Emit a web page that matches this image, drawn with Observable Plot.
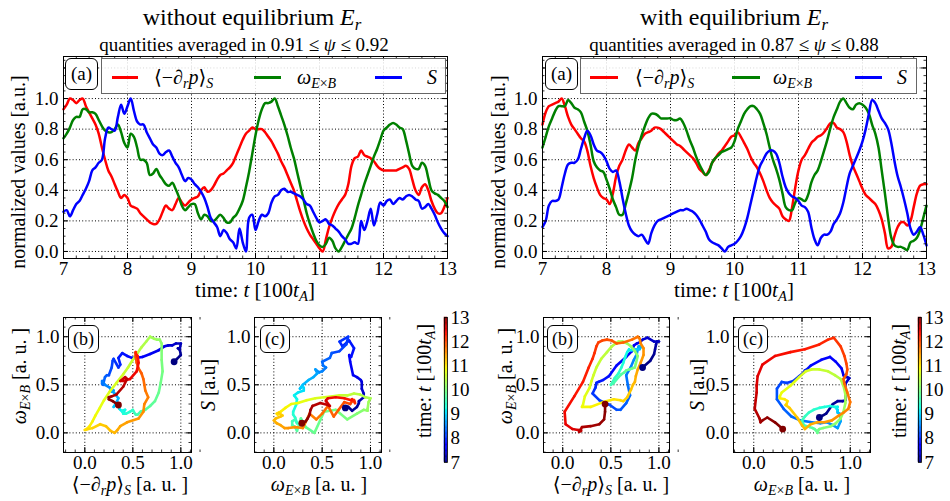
<!DOCTYPE html>
<html><head><meta charset="utf-8">
<script src="https://cdn.jsdelivr.net/npm/d3@7"></script>
<script src="https://cdn.jsdelivr.net/npm/@observablehq/plot@0.6"></script>
<style>
body{margin:0;background:#fff;}
#root{position:relative;width:950px;height:501px;overflow:hidden;font-family:"Liberation Serif","DejaVu Serif",serif;color:#000;background:#fff;}
#root svg{position:absolute;overflow:visible;}
#root svg text{font-family:"Liberation Serif","DejaVu Serif",serif !important;}
.t{position:absolute;white-space:nowrap;line-height:1;font-family:"Liberation Serif","DejaVu Serif",serif;}
.t sub{font-size:70%;vertical-align:-0.28em;line-height:0;}
.box{position:absolute;border:1px solid #000;border-radius:6px;background:#fff;display:flex;align-items:center;justify-content:center;box-sizing:border-box;font-family:"Liberation Serif","DejaVu Serif",serif;}
.leg{position:absolute;border:1px solid #666;background:rgba(255,255,255,0.85);box-sizing:border-box;}
.sw{position:absolute;height:3px;}
</style></head><body><div id="root"></div>
<script>
// ---- data: time grid 7.00 .. 13.00 in steps of 0.05 (t in units of 100 t_A)
const T0 = 7, DT = 0.05;
// without equilibrium E_r  (0.91 <= psi <= 0.92)
const leftRed = [
0.93,0.96,1.00,0.99,0.97,0.99,1.00,0.95,0.91,0.87,
0.83,0.77,0.68,0.60,0.53,0.49,0.44,0.39,0.35,0.37,
0.35,0.30,0.29,0.28,0.25,0.23,0.21,0.19,0.18,0.18,
0.21,0.26,0.30,0.28,0.27,0.31,0.35,0.32,0.30,0.32,
0.34,0.35,0.36,0.40,0.42,0.39,0.40,0.43,0.47,0.50,
0.51,0.53,0.55,0.58,0.63,0.68,0.73,0.77,0.79,0.81,
0.80,0.80,0.80,0.78,0.75,0.72,0.68,0.64,0.59,0.55,
0.50,0.45,0.40,0.33,0.26,0.20,0.15,0.11,0.08,0.05,
0.02,0.00,0.08,0.16,0.22,0.27,0.31,0.34,0.37,0.44,
0.56,0.61,0.62,0.66,0.63,0.62,0.61,0.59,0.56,0.54,
0.53,0.53,0.53,0.53,0.53,0.54,0.55,0.56,0.54,0.47,
0.40,0.37,0.42,0.44,0.40,0.33,0.28,0.25,0.25,0.29,
0.35];
const leftGreen = [
0.74,0.77,0.81,0.86,0.88,0.88,0.93,0.93,0.91,0.91,
0.90,0.86,0.82,0.79,0.78,0.78,0.80,0.83,0.78,0.71,
0.68,0.77,0.75,0.68,0.60,0.60,0.58,0.50,0.51,0.54,
0.50,0.47,0.44,0.43,0.45,0.41,0.36,0.30,0.27,0.29,
0.31,0.31,0.25,0.21,0.24,0.23,0.20,0.20,0.22,0.24,
0.22,0.19,0.19,0.22,0.24,0.28,0.33,0.42,0.52,0.64,
0.76,0.86,0.93,0.97,0.97,0.98,1.00,0.95,0.89,0.83,
0.76,0.68,0.61,0.52,0.43,0.34,0.25,0.18,0.12,0.07,
0.04,0.03,0.05,0.09,0.07,0.02,0.00,0.03,0.07,0.11,
0.15,0.22,0.30,0.37,0.44,0.50,0.56,0.62,0.67,0.73,
0.79,0.81,0.83,0.84,0.83,0.81,0.80,0.73,0.64,0.56,
0.54,0.54,0.58,0.56,0.48,0.40,0.38,0.37,0.35,0.33,
0.29];
const leftBlue = [
0.26,0.27,0.23,0.27,0.31,0.33,0.37,0.41,0.46,0.53,
0.55,0.58,0.60,0.74,0.81,0.80,0.79,0.88,0.96,0.90,
0.95,1.00,0.92,0.85,0.83,0.83,0.78,0.74,0.70,0.68,
0.64,0.63,0.65,0.66,0.62,0.58,0.55,0.50,0.46,0.48,
0.47,0.44,0.42,0.39,0.35,0.29,0.22,0.19,0.16,0.10,
0.14,0.12,0.08,0.06,0.02,0.15,0.06,0.00,0.22,0.24,
0.14,0.20,0.24,0.23,0.25,0.32,0.36,0.37,0.40,0.41,
0.39,0.39,0.38,0.37,0.36,0.34,0.31,0.30,0.26,0.22,
0.19,0.20,0.21,0.18,0.17,0.15,0.13,0.10,0.08,0.05,
0.05,0.06,0.05,0.20,0.14,0.20,0.28,0.17,0.24,0.32,
0.30,0.33,0.34,0.31,0.33,0.35,0.34,0.36,0.37,0.36,
0.34,0.33,0.28,0.29,0.31,0.28,0.24,0.19,0.15,0.12,
0.10];
// with equilibrium E_r  (0.87 <= psi <= 0.88)
const rightRed = [
0.83,0.91,0.95,0.96,0.97,0.98,1.00,0.95,0.88,0.83,
0.80,0.77,0.74,0.72,0.66,0.56,0.48,0.42,0.37,0.35,
0.34,0.31,0.38,0.49,0.56,0.60,0.66,0.70,0.68,0.66,
0.71,0.74,0.77,0.78,0.79,0.81,0.81,0.80,0.78,0.76,
0.74,0.72,0.70,0.69,0.67,0.65,0.63,0.61,0.58,0.54,
0.52,0.50,0.53,0.58,0.61,0.64,0.66,0.69,0.72,0.75,
0.76,0.78,0.75,0.71,0.67,0.62,0.58,0.55,0.51,0.46,
0.40,0.35,0.32,0.30,0.28,0.23,0.21,0.20,0.29,0.42,
0.53,0.60,0.63,0.67,0.71,0.73,0.75,0.76,0.78,0.81,
0.84,0.84,0.81,0.80,0.78,0.72,0.63,0.56,0.51,0.46,
0.41,0.37,0.35,0.33,0.31,0.27,0.21,0.12,0.02,0.03,
0.10,0.16,0.19,0.19,0.17,0.20,0.29,0.38,0.43,0.44,
0.44];
const rightGreen = [
0.68,0.75,0.82,0.87,0.92,0.95,0.95,0.95,0.99,0.97,
0.94,0.93,0.91,0.85,0.79,0.70,0.59,0.55,0.53,0.52,
0.47,0.41,0.34,0.29,0.24,0.24,0.31,0.39,0.48,0.60,
0.69,0.76,0.82,0.87,0.90,0.90,0.89,0.87,0.87,0.87,
0.87,0.86,0.86,0.87,0.84,0.79,0.73,0.68,0.62,0.57,
0.53,0.50,0.52,0.58,0.61,0.63,0.65,0.66,0.67,0.68,
0.72,0.80,0.85,0.90,0.93,0.95,0.95,0.93,0.90,0.84,
0.77,0.68,0.60,0.54,0.47,0.38,0.29,0.27,0.27,0.32,
0.35,0.34,0.33,0.37,0.45,0.50,0.53,0.59,0.66,0.73,
0.81,0.88,0.93,0.98,1.00,0.97,0.94,0.93,0.96,0.97,
0.96,0.94,0.90,0.83,0.77,0.68,0.53,0.38,0.22,0.09,
0.04,0.03,0.03,0.02,0.01,0.06,0.07,0.09,0.14,0.22,
0.30];
const rightBlue = [
0.16,0.20,0.30,0.33,0.33,0.34,0.42,0.51,0.57,0.58,
0.58,0.60,0.67,0.74,0.79,0.76,0.70,0.66,0.65,0.63,
0.59,0.54,0.52,0.53,0.46,0.35,0.25,0.17,0.13,0.11,
0.10,0.11,0.08,0.05,0.12,0.17,0.20,0.21,0.22,0.23,
0.24,0.25,0.26,0.27,0.27,0.28,0.27,0.26,0.24,0.21,
0.17,0.13,0.08,0.06,0.05,0.04,0.02,0.00,0.03,0.04,
0.05,0.07,0.10,0.15,0.22,0.31,0.40,0.49,0.56,0.60,
0.64,0.66,0.66,0.64,0.58,0.49,0.42,0.38,0.36,0.35,
0.33,0.30,0.29,0.26,0.16,0.08,0.04,0.09,0.11,0.11,
0.13,0.18,0.21,0.25,0.32,0.42,0.51,0.56,0.61,0.66,
0.72,0.80,0.90,0.99,0.97,0.92,0.87,0.84,0.80,0.71,
0.59,0.49,0.42,0.34,0.25,0.15,0.11,0.13,0.16,0.11,
0.04];
const time = leftRed.map((_, i) => +(T0 + DT * i).toFixed(2));

// ticks / labels
const topXTicks = [7, 8, 9, 10, 11, 12, 13];
const topYLabels = [0, 0.2, 0.4, 0.6, 0.8, 1.0];
const topYGrid = [0, 0.2, 0.4, 0.6, 0.8, 1.0, 1.2];
const phaseTicks = [0, 0.5, 1.0];
const cbTicks = [7, 8, 9, 10, 11, 12, 13];
const seriesNames = ["p", "w", "s"];
const seriesColors = ["#ff0000", "#008000", "#0000ff"];

const FONT = '"Liberation Serif","DejaVu Serif",serif';
const TICKFS = "19px";
const root = document.getElementById("root");

function jet(x) {
  x = Math.max(0, Math.min(1, x));
  const r = x < 0.35 ? 0 : x < 0.66 ? (x - 0.35) / 0.31 : x < 0.89 ? 1 : 1 - 0.5 * (x - 0.89) / 0.11;
  const g = x < 0.125 ? 0 : x < 0.375 ? (x - 0.125) / 0.25 : x < 0.64 ? 1 : x < 0.91 ? 1 - (x - 0.64) / 0.27 : 0;
  const b = x < 0.11 ? 0.5 + 0.5 * x / 0.11 : x < 0.34 ? 1 : x < 0.65 ? 1 - (x - 0.34) / 0.31 : 0;
  return `rgb(${Math.round(r * 255)},${Math.round(g * 255)},${Math.round(b * 255)})`;
}

function range(a, b, s) { const out = []; for (let v = a; v <= b + 1e-9; v += s) out.push(+v.toFixed(4)); return out; }

function inTicks(xs, ys, fw, fh, len, w) {
  return [
    Plot.ruleX(xs, {insetTop: fh - len, stroke: "#000", strokeWidth: w}),
    Plot.ruleX(xs, {insetBottom: fh - len, stroke: "#000", strokeWidth: w}),
    Plot.ruleY(ys, {insetRight: fw - len, stroke: "#000", strokeWidth: w}),
    Plot.ruleY(ys, {insetLeft: fw - len, stroke: "#000", strokeWidth: w})
  ];
}
const gridStyle = {stroke: "#000", strokeWidth: 1, strokeDasharray: "1,2.2"};

function place(svg, left, top) { svg.style.left = left + "px"; svg.style.top = top + "px"; root.appendChild(svg); }

function topPlot(red, green, blue, W, H, mL, mR, mT, mB) {
  const rows = [];
  [red, green, blue].forEach((arr, k) => arr.forEach((v, i) => rows.push({t: time[i], v, k: seriesNames[k]})));
  const fw = W - mL - mR, fh = H - mT - mB;
  return Plot.plot({
    width: W, height: H, marginLeft: mL, marginRight: mR, marginTop: mT, marginBottom: mB,
    style: {fontFamily: FONT, fontSize: TICKFS, background: "transparent", color: "#000"},
    x: {domain: [7, 13], ticks: topXTicks, tickSize: 0, tickPadding: 3, tickFormat: d => String(d), label: null},
    y: {domain: [-0.046, 1.275], ticks: topYLabels, tickSize: 0, tickPadding: 5, tickFormat: d => d.toFixed(1), label: null},
    color: {domain: seriesNames, range: seriesColors},
    marks: [
      Plot.ruleX(topXTicks, gridStyle),
      Plot.ruleY(topYGrid, gridStyle),
      Plot.line(rows, {x: "t", y: "v", z: "k", stroke: "k", strokeWidth: 2.5, curve: "catmull-rom", strokeLinejoin: "round"}),
      ...inTicks(topXTicks, topYGrid, fw, fh, 5, 1),
      ...inTicks(range(7, 13, 0.2), range(0, 1.25, 0.05), fw, fh, 2.5, 0.8),
      Plot.frame({stroke: "#000", strokeWidth: 1})
    ]
  });
}

function phasePlot(xs, ys, W, H, mL, mR, mT, mB, xd, yd) {
  const segs = [];
  for (let i = 0; i < xs.length - 1; i++) segs.push({x1: xs[i], y1: ys[i], x2: xs[i + 1], y2: ys[i + 1], t: (time[i] + time[i + 1]) / 2});
  const n = xs.length - 1;
  const ends = [{x: xs[0], y: ys[0], t: time[0]}, {x: xs[n], y: ys[n], t: time[n]}];
  const fw = W - mL - mR, fh = H - mT - mB;
  return Plot.plot({
    width: W, height: H, marginLeft: mL, marginRight: mR, marginTop: mT, marginBottom: mB,
    style: {fontFamily: FONT, fontSize: TICKFS, background: "transparent", color: "#000"},
    x: {domain: xd, ticks: phaseTicks, tickSize: 0, tickPadding: 3, tickFormat: d => d.toFixed(1), label: null},
    y: {domain: yd, ticks: phaseTicks, tickSize: 0, tickPadding: 4, tickFormat: d => d.toFixed(1), label: null},
    color: {type: "linear", domain: [7, 13], interpolate: jet},
    marks: [
      Plot.ruleX(phaseTicks, gridStyle),
      Plot.ruleY(phaseTicks, gridStyle),
      Plot.link(segs, {x1: "x1", y1: "y1", x2: "x2", y2: "y2", stroke: "t", strokeWidth: 2.6, strokeLinecap: "round"}),
      Plot.dot(ends, {x: "x", y: "y", fill: "t", r: 3.4}),
      ...inTicks(phaseTicks, phaseTicks, fw, fh, 5, 1),
      ...inTicks(range(-0.2, 1.2, 0.1), range(-0.2, 1.2, 0.1), fw, fh, 2.5, 0.8),
      Plot.frame({stroke: "#000", strokeWidth: 1})
    ]
  });
}

function colorbar() {
  const rows = [];
  for (let i = 0; i < 120; i++) { const a = 7 + i * 0.05, b = a + 0.05; rows.push({a, b, m: (a + b) / 2}); }
  return Plot.plot({
    width: 40, height: 170, marginLeft: 8, marginRight: 29, marginTop: 7, marginBottom: 18,
    style: {fontFamily: FONT, fontSize: TICKFS, background: "transparent", color: "#000"},
    x: {domain: [0, 1], axis: null},
    y: {domain: [7, 13], ticks: cbTicks, axis: "right", tickSize: 0, tickPadding: 3, tickFormat: d => String(d), label: null},
    color: {type: "linear", domain: [7, 13], interpolate: jet},
    marks: [
      Plot.rect(rows, {x1: 0, x2: 1, y1: "a", y2: "b", fill: "m", stroke: "m", strokeWidth: 0.5}),
      Plot.frame({stroke: "#000", strokeWidth: 0.8})
    ]
  });
}

function text(html, cx, cy, size, rot = 0) {
  const d = document.createElement("div");
  d.className = "t";
  d.innerHTML = html;
  d.style.fontSize = size + "px";
  d.style.left = cx + "px";
  d.style.top = cy + "px";
  d.style.transform = `translate(-50%,-50%) rotate(${rot}deg)`;
  root.appendChild(d);
}
function textLeft(html, x, cy, size) {
  const d = document.createElement("div");
  d.className = "t";
  d.innerHTML = html;
  d.style.fontSize = size + "px";
  d.style.left = x + "px";
  d.style.top = cy + "px";
  d.style.transform = "translate(0,-50%)";
  root.appendChild(d);
}
function box(label, x, y, w, h, size) {
  const d = document.createElement("div");
  d.className = "box";
  d.textContent = label;
  Object.assign(d.style, {left: x + "px", top: y + "px", width: w + "px", height: h + "px", fontSize: size + "px"});
  root.appendChild(d);
}
function legend(x, y, w, h, items) {
  const d = document.createElement("div");
  d.className = "leg";
  Object.assign(d.style, {left: x + "px", top: y + "px", width: w + "px", height: h + "px"});
  root.appendChild(d);
  items.forEach(it => {
    const s = document.createElement("div");
    s.className = "sw";
    Object.assign(s.style, {left: it.l1 + "px", top: (it.y - 1.5) + "px", width: (it.l2 - it.l1) + "px", background: it.c});
    root.appendChild(s);
    textLeft(it.html, it.tx, it.y, 20);
  });
}

// labels
const pLbl = "⟨−∂<sub><i>r</i></sub><i>p</i>⟩<sub><i>S</i></sub>";
const wLbl = "<i>ω</i><sub><i>E</i>×<i>B</i></sub>";
const sLbl = "<i>S</i>";
const timeLbl = "time: <i>t</i> [100<i>t</i><sub><i>A</i></sub>]";

// ---------- LEFT HALF ----------
text("without equilibrium <i>E</i><sub><i>r</i></sub>", 252, 17, 24);
text("quantities averaged in 0.91 ≤ <i>ψ</i> ≤ 0.92", 244, 44, 19);
place(topPlot(leftRed, leftGreen, leftBlue, 460, 235, 63, 13, 6, 27), 0, 50);
box("(a)", 65, 58, 33, 32, 19);
legend(101, 58, 345, 36, [
  {l1: 112, l2: 138, y: 77, c: seriesColors[0], tx: 154, html: pLbl},
  {l1: 254, l2: 281, y: 77, c: seriesColors[1], tx: 297, html: wLbl},
  {l1: 375, l2: 402, y: 77, c: seriesColors[2], tx: 427, html: sLbl}
]);
text(timeLbl, 255, 290, 21);
text("normalized values [a.u.]", 18, 172, 20, -90);

place(phasePlot(leftRed, leftGreen, 200, 170, 63, 9, 7, 28, [-0.222, 1.111], [-0.204, 1.2]), 0, 310);
box("(b)", 68, 325, 31, 28, 18);
text(pLbl + " [a. u. ]", 130, 484, 20);
text(wLbl + " [a. u. ]", 19, 376, 20, -90);

place(phasePlot(leftGreen, leftBlue, 190, 170, 54, 9, 7, 28, [-0.2, 1.114], [-0.204, 1.2]), 200, 310);
box("(c)", 260, 325, 30, 28, 18);
text(wLbl + " [a. u. ]", 319, 484, 20);
text(sLbl + " [a.u]", 208, 385, 20, -90);

place(colorbar(), 436, 310);
text(timeLbl, 424, 381, 20, -90);

// ---------- RIGHT HALF ----------
text("with equilibrium <i>E</i><sub><i>r</i></sub>", 734, 17, 24);
text("quantities averaged in 0.87 ≤ <i>ψ</i> ≤ 0.88", 734, 44, 19);
place(topPlot(rightRed, rightGreen, rightBlue, 465, 235, 67, 14, 6, 27), 475, 50);
box("(a)", 545, 58, 33, 32, 19);
legend(580, 58, 337, 36, [
  {l1: 590, l2: 618, y: 77, c: seriesColors[0], tx: 635, html: pLbl},
  {l1: 732, l2: 760, y: 77, c: seriesColors[1], tx: 773, html: wLbl},
  {l1: 855, l2: 882, y: 77, c: seriesColors[2], tx: 897, html: sLbl}
]);
text(timeLbl, 734, 290, 21);
text("normalized values [a.u.]", 498, 172, 20, -90);

place(phasePlot(rightRed, rightGreen, 200, 170, 63, 11, 7, 28, [-0.2, 1.11], [-0.204, 1.2]), 480, 310);
box("(b)", 547, 325, 31, 28, 18);
text(pLbl + " [a. u. ]", 611, 484, 20);
text(wLbl + " [a. u. ]", 505, 376, 20, -90);

place(phasePlot(rightGreen, rightBlue, 200, 170, 53, 10, 7, 28, [-0.21, 1.21], [-0.204, 1.2]), 680, 310);
box("(c)", 738, 325, 30, 28, 18);
text(wLbl + " [a. u. ]", 802, 484, 20);
text(sLbl + " [a.u]", 697, 385, 20, -90);

place(colorbar(), 910, 310);
text(timeLbl, 899, 381, 20, -90);
</script></body></html>
